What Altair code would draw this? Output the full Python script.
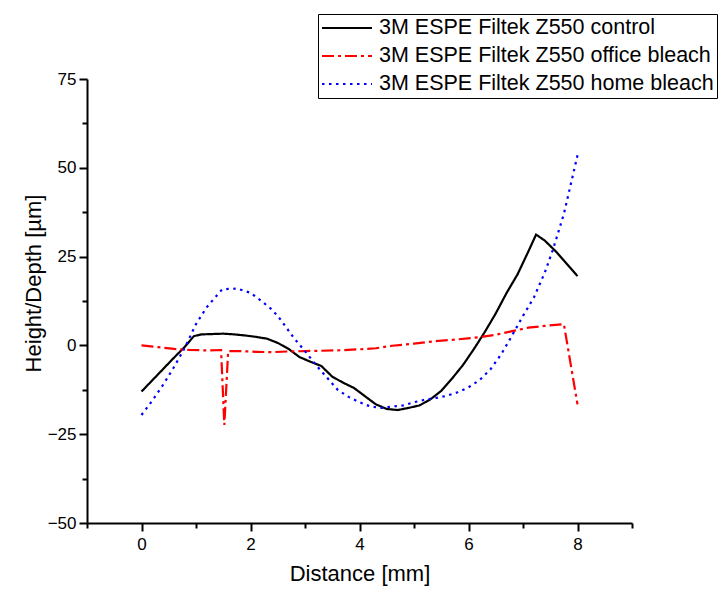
import altair as alt
import pandas as pd

series_names = [
    "3M ESPE Filtek Z550 control",
    "3M ESPE Filtek Z550 office bleach",
    "3M ESPE Filtek Z550 home bleach",
]
series_colors = ["#000000", "#ff0000", "#0000ff"]
series_dashes = [[1, 0], [12, 4, 3, 4], [2.5, 4.5]]

control_x = [0, 0.2, 0.4, 0.6, 0.8, 0.96, 1.1, 1.3, 1.5, 1.7, 1.9, 2.1, 2.3, 2.5, 2.7,
             2.9, 3.1, 3.3, 3.5, 3.7, 3.9, 4.1, 4.3, 4.5, 4.7, 4.9, 5.1, 5.3, 5.5, 5.7,
             5.9, 6.1, 6.3, 6.5, 6.7, 6.9, 7.1, 7.24, 7.4, 7.6, 7.8, 8.0]
control_y = [-13.0, -9.8, -6.6, -3.4, -0.3, 2.6, 3.1, 3.2, 3.3, 3.1, 2.8, 2.4, 1.9, 0.7, -1.0,
             -3.3, -4.6, -5.8, -8.8, -10.5, -12.0, -14.3, -16.6, -17.9, -18.2, -17.6, -16.9, -15.2, -12.8, -9.3,
             -5.5, -1.0, 3.8, 9.0, 14.8, 20.0, 26.5, 31.2, 29.5, 26.5, 23.0, 19.5]

office_x = [0, 0.3, 0.6, 0.9, 1.2, 1.46, 1.52, 1.59, 1.8, 2.1, 2.4, 2.7, 3.0, 3.3, 3.6,
            4.0, 4.3, 4.6, 5.0, 5.4, 5.8, 6.2, 6.5, 6.8, 7.1, 7.4, 7.75, 8.0]
office_y = [0.0, -0.5, -1.0, -1.3, -1.4, -1.3, -22.4, -1.6, -1.6, -1.8, -1.9, -1.7, -1.6, -1.5, -1.4,
            -1.1, -0.8, -0.1, 0.5, 1.2, 1.7, 2.3, 3.0, 4.0, 5.0, 5.5, 6.0, -16.6]

home_x = [0, 0.2, 0.4, 0.6, 0.8, 1.0, 1.2, 1.48, 1.6, 1.75, 2.0, 2.2, 2.4, 2.55, 2.8,
          3.0, 3.2, 3.4, 3.6, 3.8, 4.0, 4.2, 4.4, 4.6, 4.8, 5.0, 5.2, 5.4, 5.6, 5.8,
          6.0, 6.2, 6.4, 6.6, 6.8, 7.0, 7.2, 7.4, 7.55, 7.75, 8.0]
home_y = [-19.6, -15.5, -11.0, -6.0, -0.5, 6.0, 10.8, 15.8, 15.9, 16.0, 14.8, 12.5, 10.0, 7.3, 2.0,
          -1.6, -5.5, -9.0, -12.5, -14.5, -16.0, -17.2, -17.6, -17.2, -16.9, -16.0, -15.3, -14.8, -14.2, -13.2,
          -11.8, -9.8, -6.8, -2.5, 2.8, 8.3, 13.5, 20.5, 27.0, 37.0, 53.5]

x_ticks = [-1, 0, 1, 2, 3, 4, 5, 6, 7, 8, 9]
y_ticks = [-50, -37.5, -25, -12.5, 0, 12.5, 25, 37.5, 50, 62.5, 75]

rows = []
for name, xs, ys in zip(series_names, [control_x, office_x, home_x], [control_y, office_y, home_y]):
    for i, (xv, yv) in enumerate(zip(xs, ys)):
        rows.append({"series": name, "x": xv, "y": yv, "order": i})
df = pd.DataFrame(rows)

FONT = "Liberation Sans"

legend = alt.Legend(
    title=None, orient="none", legendX=231, legendY=-65,
    symbolType="stroke", symbolSize=2500, symbolStrokeWidth=2,
    labelFontSize=21.5, labelFont=FONT, labelColor="black", labelLimit=600,
    strokeColor="black", fillColor="white", padding=3, rowPadding=6,
    clipHeight=22, labelOffset=6, offset=0,
)

chart = alt.Chart(df).mark_line(strokeWidth=2.2).encode(
    x=alt.X("x:Q", title="Distance [mm]",
            scale=alt.Scale(domain=[-1, 9], nice=False, zero=False),
            axis=alt.Axis(values=x_ticks,
                          labelExpr="datum.value >= 0 && datum.value % 2 === 0 ? datum.label : ''",
                          tickSize={"condition": {"test": "datum.value % 2 !== 0", "value": 5}, "value": 8},
                          labelPadding=5, titlePadding=11)),
    y=alt.Y("y:Q", title="Height/Depth [µm]",
            scale=alt.Scale(domain=[-50, 75], nice=False, zero=False),
            axis=alt.Axis(values=y_ticks,
                          labelExpr="datum.value % 25 === 0 ? datum.label : ''",
                          tickSize={"condition": {"test": "datum.value % 25 !== 0", "value": 5}, "value": 8},
                          labelPadding=3, titleX=-54, titleY=204, titleAngle=-90,
                          titleAlign="center", titleBaseline="middle")),
    color=alt.Color("series:N", scale=alt.Scale(domain=series_names, range=series_colors), legend=legend),
    strokeDash=alt.StrokeDash("series:N", scale=alt.Scale(domain=series_names, range=series_dashes), legend=legend),
    order="order:Q",
).properties(
    width=545, height=444,
    autosize=alt.AutoSizeParams(type="none"),
    padding={"left": 79, "top": 71, "right": 87, "bottom": 63},
    background="white",
).configure_view(stroke=None).configure_axis(
    domainColor="black", domainWidth=2, tickColor="black", tickWidth=2,
    labelFont=FONT, labelFontSize=17, labelColor="black",
    titleFont=FONT, titleFontSize=22, titleFontWeight="normal", titleColor="black",
    grid=False,
)

chart.save("out.html", embed_options={"renderer": "svg", "actions": False})
